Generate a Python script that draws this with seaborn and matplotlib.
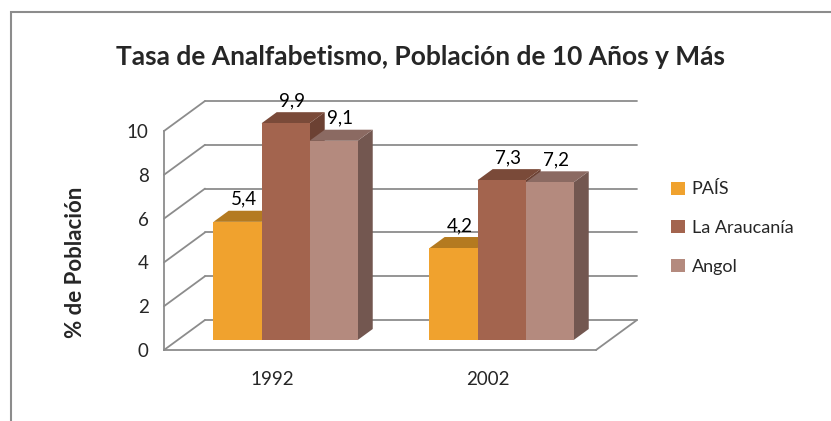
import matplotlib
matplotlib.use("Agg")
import matplotlib.pyplot as plt
from matplotlib.patches import Polygon, Patch, Rectangle
import seaborn as sns
import pandas as pd

# data
years = ["1992", "2002"]
series = ["PAÍS", "La Araucanía", "Angol"]
pais = [5.4, 4.2]
araucania = [9.9, 7.3]
angol = [9.1, 7.2]
y_ticks = [0, 2, 4, 6, 8, 10]

front_colors = ["#F0A22E", "#A3644E", "#B48A7E"]
top_colors = ["#B47A20", "#7A4A39", "#8B6A62"]
side_colors = ["#A86F1C", "#6C4133", "#735750"]
grid_col = "#8C8C8C"

df = pd.DataFrame({
    "year": years * 3,
    "series": [s for s in series for _ in years],
    "value": pais + araucania + angol,
})

W, H = 831, 421
sns.set_style("white")
plt.rcParams["font.family"] = ["Lato", "DejaVu Sans"]

fig = plt.figure(figsize=(W / 100, H / 100), dpi=100)
# axes placed in pixels: x=-0.5 at px 164, y=0 at px 350
px_x, px_y = 216.0, 21.9
left, right, bottom, top = 164, 664, 350, 90
ax = fig.add_axes([left / W, 1 - bottom / H, (right - left) / W, (bottom - top) / H])

sns.barplot(data=df, x="year", y="value", hue="series", palette=front_colors,
            width=0.667, saturation=1, legend=False, ax=ax)

ax.set_xlim(-0.5, -0.5 + (right - left) / px_x)
ax.set_ylim(0, (bottom - top) / px_y)

# pseudo 3d depth (floor depth in data units)
DX = 41 / px_x
DV = 30 / px_y
D0, D1 = 0.33, 0.70

def proj(x, v, d):
    return x + d * DX, v + d * DV

# back wall gridlines + left wall diagonals
for v in y_ticks:
    x0, y0 = proj(-0.5, v, 1)
    x1, y1 = proj(1.5, v, 1)
    ax.plot([x0, x1], [y0, y1], color=grid_col, lw=1.3, zorder=1, clip_on=False)
    fx, fy = proj(-0.5, v, 0)
    ax.plot([fx, x0], [fy, y0], color=grid_col, lw=1.3, zorder=1, clip_on=False)
# right floor edge
fx, fy = proj(1.5, 0, 0)
bx, by = proj(1.5, 0, 1)
ax.plot([fx, bx], [fy, by], color=grid_col, lw=1.3, zorder=1, clip_on=False)

# 3d bars from the seaborn patches
bdx, bdv = (D1 - D0) * DX, (D1 - D0) * DV
bars = []
for hi, cont in enumerate(ax.containers):
    for bar in cont:
        bars.append((bar.get_x(), hi, bar))
bars.sort(key=lambda b: b[0])
for rank, (_, hi, bar) in enumerate(bars):
    h = bar.get_height()
    bar.set_x(bar.get_x() + D0 * DX)
    bar.set_y(D0 * DV)
    bar.set_zorder(3 + rank * 0.1 + 0.05)
    bar.set_linewidth(0)
    x0 = bar.get_x()
    x1 = x0 + bar.get_width()
    y0 = bar.get_y()
    yt = y0 + h
    topface = Polygon([(x0, yt), (x1, yt), (x1 + bdx, yt + bdv), (x0 + bdx, yt + bdv)],
                      closed=True, facecolor=top_colors[hi], lw=0,
                      zorder=3 + rank * 0.1, clip_on=False)
    side = Polygon([(x1, y0), (x1, yt), (x1 + bdx, yt + bdv), (x1 + bdx, y0 + bdv)],
                   closed=True, facecolor=side_colors[hi], lw=0,
                   zorder=3 + rank * 0.1, clip_on=False)
    ax.add_patch(side)
    ax.add_patch(topface)
    ax.text(x0 + bar.get_width() / 2 + bdx * 0.4, yt + bdv + 3 / px_y,
            f"{h:.1f}".replace(".", ","), ha="center", va="bottom",
            fontsize=13.5, color="black", zorder=10)

# axes styling
for s in ["top", "right"]:
    ax.spines[s].set_visible(False)
ax.spines["left"].set_bounds(0, 10)
ax.spines["bottom"].set_bounds(-0.5, 1.5)
for s in ["left", "bottom"]:
    ax.spines[s].set_color(grid_col)
    ax.spines[s].set_linewidth(1.3)
ax.set_yticks(y_ticks)
ax.set_yticklabels([str(t) for t in y_ticks])
ax.tick_params(axis="y", length=4, width=1.2, color=grid_col, pad=7, labelsize=13.5)
ax.tick_params(axis="x", length=0, pad=15, labelsize=13.5)
ax.set_xlabel("")
ax.set_ylabel("")
ax.patch.set_alpha(0)

fig.text(75 / W, 1 - 262 / H, "% de Población", rotation=90, ha="center", va="center",
         fontsize=16, fontweight="bold")
fig.text(420 / W, 1 - 57 / H, "Tasa de Analfabetismo, Población de 10 Años y Más",
         ha="center", va="center", fontsize=19, fontweight="bold")

handles = [Patch(facecolor=c, edgecolor="none") for c in front_colors]
fig.legend(handles, series, loc="center left", bbox_to_anchor=(671 / W, 1 - 228 / H),
           bbox_transform=fig.transFigure, frameon=False, fontsize=13,
           handlelength=0.75, handleheight=0.75, handletextpad=0.4,
           labelspacing=1.25, borderpad=0, borderaxespad=0)

# outer chart border
fig.patches.append(Rectangle((11 / W, -0.1), 1.0, 1 - 12 / H + 0.1, transform=fig.transFigure,
                             fill=False, edgecolor=grid_col, lw=1.5, zorder=0))

fig.savefig("out.png", dpi=100)
